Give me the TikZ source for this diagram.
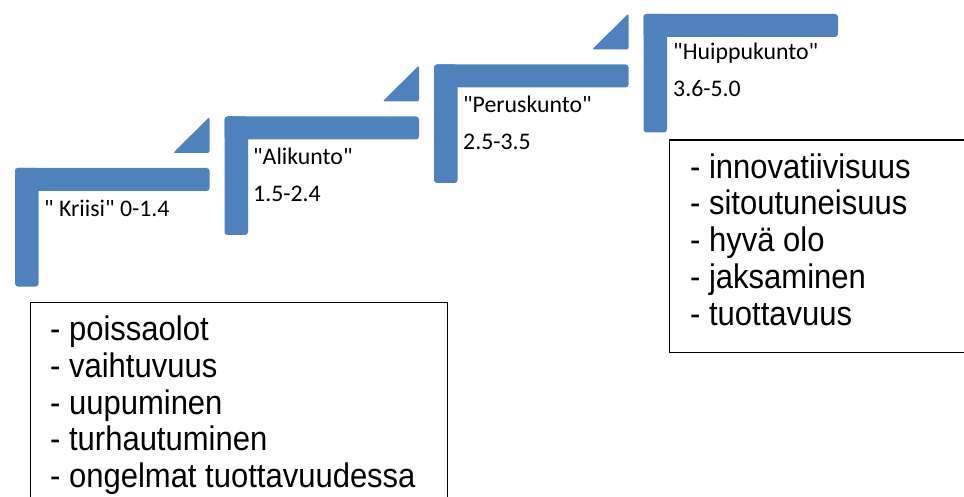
\documentclass[tikz,border=0pt]{standalone}
\usepackage{fontspec}
\setmainfont{Carlito}
\newfontfamily\listfont{Liberation Sans}
\usepackage{graphicx}
\usepackage{tikz}
\usetikzlibrary{calc, positioning}
\definecolor{stepblue}{HTML}{4F81BD}
\newcommand{\qq}{\textquotedbl}
\newcommand{\tallitem}[1]{\scalebox{1}[1.1]{- #1}}
\tikzstyle{stepbar}=[fill=stepblue, rounded corners=3pt]
\tikzstyle{steptext}=[inner sep=0pt, anchor=base west, font=\fontsize{23.8}{28}\selectfont]
\tikzstyle{listframe}=[draw=black, line width=1.2pt, inner sep=0pt, anchor=north west]
\tikzstyle{listtext}=[inner sep=0pt, anchor=base west, font=\listfont\fontsize{31}{36}\selectfont]

\begin{document}
\begin{tikzpicture}[x=1pt, y=-1pt]
\path[use as bounding box] (0,0) rectangle (964,497);
\clip (0,0) rectangle (964,497);
%
\foreach \x/\y in {15/168, 224.5/116.5, 434/64.5, 643.5/14}
{
\fill[stepbar] (\x,\y) rectangle ({\x+194.5},{\y+23}); 
\fill[stepbar] (\x,\y) rectangle ({\x+23.5},{\y+118.5});
}
\foreach \x/\y in {15/168, 224.5/116.5, 434/64.5}
{
\fill[stepblue, rounded corners=2pt] ({\x+158},{\y-15}) -- ({\x+194.5},{\y-15}) -- ({\x+194.5},{\y-51}) -- cycle;
}
%
\node[steptext] (kriisi) at (44,217) {\qq{} Kriisi\qq{} 0-1.4};
\node[steptext] (ali) at (253,165) {\qq{}Alikunto\qq};
\node[steptext] (alival) at (253,202) {1.5-2.4};
\node[steptext] (perus) at (463,113) {\qq{}Peruskunto\qq};
\node[steptext] (perusval) at (463,150) {2.5-3.5};
\node[steptext] (huippu) at (673,60) {\qq{}Huippukunto\qq};
\node[steptext] (huippuval) at (673,97) {3.6-5.0};
%
\node[listframe, minimum width=417pt, minimum height=220pt] (lowbox) at (30,302) {};
\foreach \t [count=\i] in {poissaolot, vaihtuvuus, uupuminen, turhautuminen, ongelmat tuottavuudessa}
{
\node[listtext] (low\i) at (50,{340.7+36.7*(\i-1)}) {\tallitem{\t}};
}
\node[listframe, minimum width=295pt, minimum height=212pt] (highbox) at (668.5,139.5) {};
\foreach \t [count=\i] in {innovatiivisuus, sitoutuneisuus, hyvä olo, jaksaminen, tuottavuus}
{
\node[listtext] (high\i) at (690,{178.3+36.7*(\i-1)}) {\tallitem{\t}};
}
%
\end{tikzpicture}
\end{document}
